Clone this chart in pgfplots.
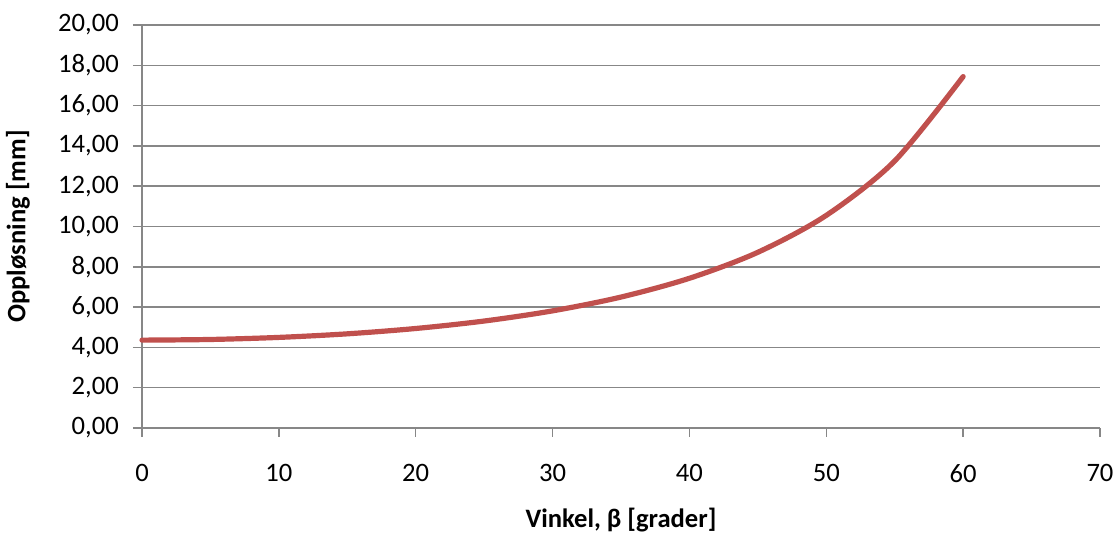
\documentclass[border=0pt]{standalone}
\usepackage{fontspec}
\setmainfont{Carlito}
\usepackage{pgfplots}
\pgfplotsset{compat=1.18}
\newcommand\cf{\fontsize{13.3}{16}\selectfont}
\definecolor{gridgray}{HTML}{878787}
\definecolor{curvered}{HTML}{C0504D}
\begin{document}
\begin{tikzpicture}
\begin{axis}[
  at={(0,0)}, anchor=south west,
  scale only axis,
  width=479pt, height=201.5pt,
  xmin=0, xmax=70, ymin=0, ymax=20,
  xtick={0,10,...,70}, ytick={0,2,...,20},
  axis x line*=bottom, axis y line*=left,
  axis line style={gridgray, line width=0.75pt, -},
  tick align=outside, major tick length=4.5pt,
  tick style={gridgray, line width=0.75pt},
  ymajorgrids, grid style={gridgray, line width=0.75pt},
  yticklabel={\pgfmathprintnumber[fixed,fixed zerofill,precision=2,use comma,assume math mode=true]{\tick}},
  xticklabel={\pgfmathprintnumber[fixed,precision=0,assume math mode=true]{\tick}},
  xticklabel style={font=\cf, yshift=-10pt},
  yticklabel style={font=\cf, xshift=-3.6pt},
  xlabel={\textbf{Vinkel, β [grader]}},
  ylabel={\textbf{Oppløsning [mm]}},
  label style={font=\cf},
  xlabel style={at={(axis description cs:0.5,0)}, anchor=center, yshift=-46pt},
  ylabel style={at={(axis description cs:0,0.5)}, anchor=center, yshift=62pt},
  clip=false,
]
\addplot[curvered, line width=2.6pt, smooth, line cap=round, line join=round] coordinates {
(0,4.36) (5,4.393) (10,4.496) (15,4.673) (20,4.938) (25,5.308) (30,5.813)
(35,6.498) (40,7.430) (45,8.72) (50,10.552) (55,13.253) (60,17.44)
};
\end{axis}
\pgfresetboundingbox
\path[use as bounding box] (-71pt,-53.5pt) rectangle (487pt,214pt);
\end{tikzpicture}
\end{document}
